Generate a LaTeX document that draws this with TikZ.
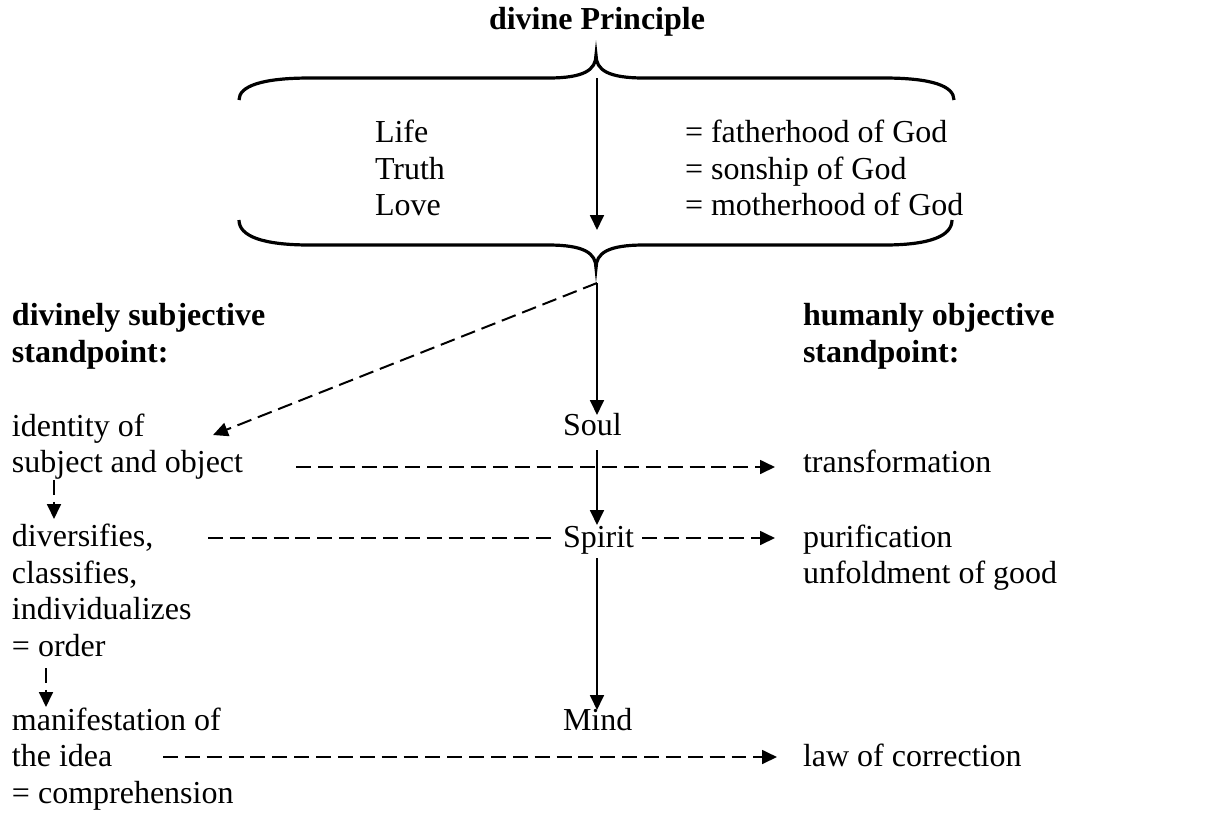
\documentclass[tikz,border=0pt]{standalone}
\usepackage{fontspec}
\setmainfont{Liberation Serif}
\usetikzlibrary{arrows.meta}
\begin{document}
\begin{tikzpicture}[x=0.375pt,y=-0.375pt,
  font=\fontsize{12}{13.8}\selectfont,
  txt/.style={anchor=base west, inner sep=0pt, outer sep=0pt},
  solidarrow/.style={line width=0.75pt, -{Triangle[length=5.6pt,width=5.2pt]}},
  dasharrow/.style={line width=0.75pt, dash pattern=on 5.6pt off 2.6pt, -{Triangle[length=5.6pt,width=5.2pt]}},
  dashline/.style={line width=0.75pt, dash pattern=on 5.6pt off 2.6pt},
  bracestyle/.style={line width=1.2pt}]
\useasboundingbox (0,0) rectangle (1216,813);

% title
\node[anchor=base, inner sep=0pt] (title) at (597,29) {\bfseries divine Principle};

% braces
\draw[bracestyle] (239,100) .. controls (239,86) and (262,78) .. (310,78) -- (548,78)
  .. controls (584,78) and (596,70) .. (596,55)
  .. controls (596,70) and (608,78) .. (644,78) -- (884,78)
  .. controls (932,78) and (954,86) .. (954,100);
\draw[bracestyle] (239,220) .. controls (239,236) and (262,245) .. (310,245) -- (548,245)
  .. controls (584,245) and (596,253) .. (596,268)
  .. controls (596,253) and (608,245) .. (644,245) -- (884,245)
  .. controls (930,245) and (952,236) .. (952,220);

% inside brace
\node[txt] (life) at (375,142) {Life};
\node[txt] (truth) at (375,179) {Truth};
\node[txt] (love) at (375,215) {Love};
\node[txt] (fath) at (685,142) {= fatherhood of God};
\node[txt] (son) at (685,179) {= sonship of God};
\node[txt] (moth) at (685,215) {= motherhood of God};

% headings
\node[txt] (dsub1) at (12,325) {\bfseries divinely subjective};
\node[txt] (dsub2) at (12,362) {\bfseries standpoint:};
\node[txt] (hobj1) at (803,325) {\bfseries humanly objective};
\node[txt] (hobj2) at (803,362) {\bfseries standpoint:};

% left column
\node[txt] (id1) at (12,436) {identity of};
\node[txt] (id2) at (12,472) {subject and object};
\node[txt] (div1) at (12,546) {diversifies,};
\node[txt] (div2) at (12,583) {classifies,};
\node[txt] (div3) at (12,619) {individualizes};
\node[txt] (div4) at (12,656) {= order};
\node[txt] (man1) at (12,730) {manifestation of};
\node[txt] (man2) at (12,766) {the idea};
\node[txt] (man3) at (12,803) {= comprehension};

% middle column
\node[txt] (soul) at (563,435) {Soul};
\node[txt] (spirit) at (563,547) {Spirit};
\node[txt] (mind) at (563,730) {Mind};

% right column
\node[txt] (trans) at (803,472) {transformation};
\node[txt] (puri) at (803,547) {purification};
\node[txt] (unfold) at (803,583) {unfoldment of good};
\node[txt] (law) at (803,766) {law of correction};

% connector end points
\coordinate (topstart) at (597,78);
\coordinate (topend) at (597,230);
\coordinate (botstart) at (597,283);
\coordinate (soultop) at (597,415);
\coordinate (soulbot) at (597,450);
\coordinate (spirittop) at (597,525);
\coordinate (spiritbot) at (597,558);
\coordinate (mindtop) at (597,710);
\coordinate (idtip) at (213,435);
\coordinate (r1a) at (296,467);
\coordinate (r1b) at (775,467);
\coordinate (r2a) at (208,538);
\coordinate (r2b) at (553,538);
\coordinate (r2c) at (642,538);
\coordinate (r2d) at (775,538);
\coordinate (r3a) at (163,757);
\coordinate (r3b) at (777,757);
\coordinate (v1a) at (54,480);
\coordinate (v1b) at (54,519);
\coordinate (v2a) at (46,668);
\coordinate (v2b) at (46,707);

% solid arrows
\draw[solidarrow] (topstart) -- (topend);
\draw[solidarrow] (botstart) -- (soultop);
\draw[solidarrow] (soulbot) -- (spirittop);
\draw[solidarrow] (spiritbot) -- (mindtop);

% dashed arrows
\draw[dasharrow] (botstart) -- (idtip);
\draw[dasharrow] (r1a) -- (r1b);
\draw[dashline] (r2a) -- (r2b);
\draw[dasharrow] (r2c) -- (r2d);
\draw[dasharrow] (r3a) -- (r3b);
\draw[dasharrow] (v1a) -- (v1b);
\draw[dasharrow] (v2a) -- (v2b);
\end{tikzpicture}
\end{document}
